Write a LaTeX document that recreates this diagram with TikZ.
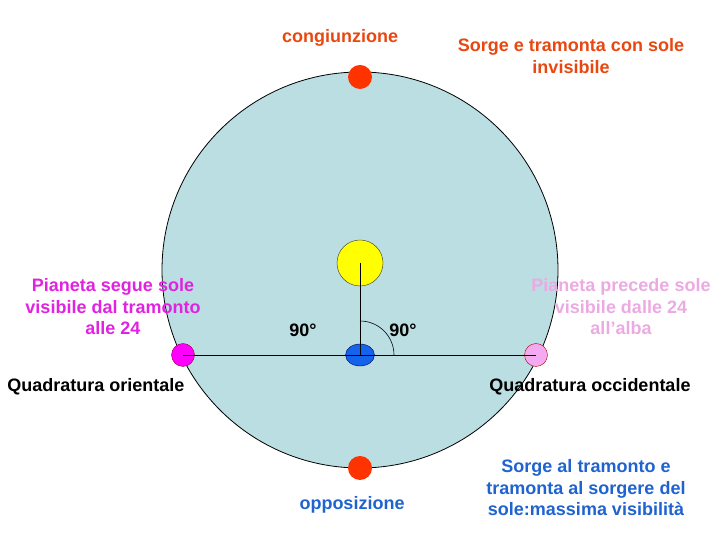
\documentclass[tikz,border=0pt]{standalone}
\usepackage{fontspec}
\setmainfont{Liberation Sans}
\usetikzlibrary{shapes.geometric}

\definecolor{orbita}{RGB}{186,222,226}
\definecolor{rosso}{RGB}{255,51,0}
\definecolor{fucsia}{RGB}{255,0,255}
\definecolor{testorosso}{RGB}{232,72,16}
\definecolor{testomag}{RGB}{225,35,225}
\definecolor{testorosa}{RGB}{236,170,226}
\definecolor{testoblu}{RGB}{31,99,209}
\definecolor{rosa}{RGB}{244,170,240}
\definecolor{terra}{RGB}{20,100,235}
\definecolor{giallo}{RGB}{255,255,0}

\tikzset{
  pianeta/.style={circle,minimum size=24pt,inner sep=0pt},
  scritta/.style={font=\fontsize{18}{21.5}\selectfont\bfseries,align=center,inner sep=0pt}
}

\begin{document}
\begin{tikzpicture}[x=1pt,y=1pt]
  \useasboundingbox (0,0) rectangle (720,540);
  \draw[fill=orbita,line width=0.8pt] (360,270) circle (198);
  \node[pianeta,fill=rosso] (congiunz) at (360,463) {};
  \node[pianeta,fill=rosso] (opposiz) at (360,72) {};
  \node[pianeta,fill=fucsia,draw=purple!80!black,minimum size=23pt] (orient) at (183,185) {};
  \node[pianeta,fill=rosa,draw=red!70!black,minimum size=23pt] (occid) at (536,185) {};
  \node[circle,fill=giallo,draw=black!80,minimum size=46pt,inner sep=0pt] (sole) at (360,277) {};
  \node[ellipse,fill=terra,draw=blue!40!black,minimum width=29pt,minimum height=22pt,inner sep=0pt] (terra) at (360,185) {};
  \draw[line width=0.8pt] (sole.center) -- (terra.center);
  \draw[line width=0.8pt] (orient.center) -- (occid.center);
  \draw[line width=0.6pt] (360,219) arc[start angle=90,end angle=0,radius=34];
  % scritte
  \node[scritta] (ang1) at (303,210) {90°};
  \node[scritta] (ang2) at (403,210) {90°};
  \node[scritta,text=testorosso] (tcong) at (340,502) {congiunzione};
  \node[scritta,text=testorosso] (tinvis) at (571,484) {Sorge e tramonta con sole\\invisibile};
  \node[scritta,text=testomag] (tsegue) at (113,233) {Pianeta segue sole\\visibile dal tramonto\\alle 24};
  \node[scritta] (tor) at (96,153) {Quadratura orientale};
  \node[scritta,text=testorosa] (tprec) at (621,233) {Pianeta precede sole\\visibile dalle 24\\all’alba};
  \node[scritta] (tocc) at (590,153) {Quadratura occidentale};
  \node[scritta,text=testoblu] (topp) at (352,35) {opposizione};
  \node[scritta,text=testoblu] (tmax) at (586,52) {Sorge al tramonto e\\tramonta al sorgere del\\sole:massima visibilità};
\end{tikzpicture}
\end{document}
